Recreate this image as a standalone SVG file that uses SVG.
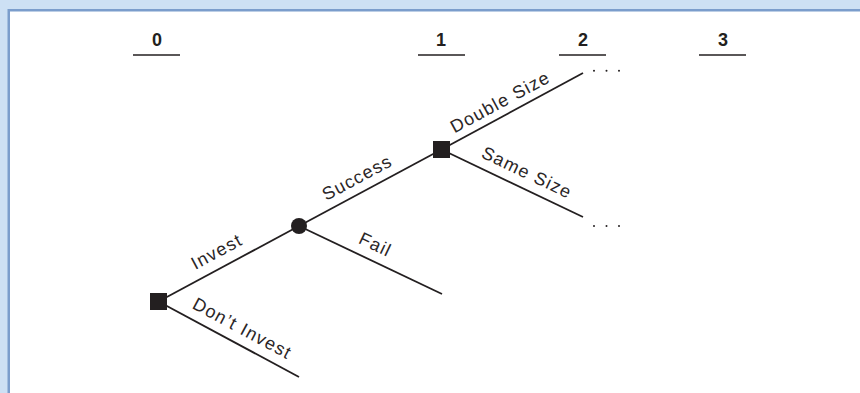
<svg xmlns="http://www.w3.org/2000/svg" width="860" height="393" viewBox="0 0 860 393">
<style>
.hdr{font-family:"Liberation Sans",Arial,sans-serif;font-weight:bold;font-size:18px;fill:#231f20;text-anchor:middle}
.ul{stroke:#231f20;stroke-width:1.6}
.br{stroke:#231f20;stroke-width:1.8;fill:none}
.lbl{font-family:"Liberation Sans",Arial,sans-serif;font-size:18px;fill:#2a2627;text-anchor:middle;letter-spacing:1.2px}
.nd{fill:#231f20}
.dot{fill:#231f20}
</style>
<rect x="0" y="0" width="860" height="393" fill="#cde0f4"/>
<rect x="8.75" y="10.25" width="860" height="400" fill="#ffffff" stroke="#7b9dcc" stroke-width="2.5"/>
<g id="headers">
<text class="hdr" x="157" y="46">0</text>
<line class="ul" x1="133" y1="55" x2="180" y2="55"/>
<text class="hdr" x="441" y="46">1</text>
<line class="ul" x1="418" y1="55" x2="465" y2="55"/>
<text class="hdr" x="583" y="46">2</text>
<line class="ul" x1="559" y1="55" x2="606" y2="55"/>
<text class="hdr" x="723" y="46">3</text>
<line class="ul" x1="699" y1="55" x2="746" y2="55"/>
</g>
<g id="connectors">
<line class="br" x1="158.5" y1="301.5" x2="299" y2="226"/>
<line class="br" x1="158.5" y1="301.5" x2="299" y2="377"/>
<line class="br" x1="299" y1="226" x2="441.5" y2="149.5"/>
<line class="br" x1="299" y1="226" x2="442" y2="294"/>
<line class="br" x1="441.5" y1="149.5" x2="583" y2="73"/>
<line class="br" x1="441.5" y1="149.5" x2="583" y2="217"/>
</g>
<g id="labels">
<text class="lbl" transform="translate(224.3,265.8) rotate(-28.25)" x="0" y="-10">Invest</text>
<text class="lbl" transform="translate(234.7,342.5) rotate(28.25)" x="0" y="-10">Don’t Invest</text>
<text class="lbl" transform="translate(364.3,190.9) rotate(-28.23)" x="0" y="-9">Success</text>
<text class="lbl" transform="translate(368.5,259) rotate(25.43)" x="0" y="-10">Fail</text>
<text class="lbl" transform="translate(506.8,114.3) rotate(-28.39)" x="0" y="-8">Double Size</text>
<text class="lbl" transform="translate(520,187) rotate(25.5)" x="0" y="-10">Same Size</text>
</g>
<g id="node-decision-0"><rect class="nd" x="150" y="293" width="17" height="17"/></g>
<g id="node-chance-1"><circle class="nd" cx="299" cy="226" r="8"/></g>
<g id="node-decision-1"><rect class="nd" x="433" y="141" width="17" height="17"/></g>
<g id="continuation-double">
<circle class="dot" cx="594" cy="70.7" r="1"/>
<circle class="dot" cx="606.5" cy="70.7" r="1"/>
<circle class="dot" cx="619" cy="70.7" r="1"/>
</g>
<g id="continuation-same">
<circle class="dot" cx="594" cy="226" r="1"/>
<circle class="dot" cx="606.5" cy="226" r="1"/>
<circle class="dot" cx="619" cy="226" r="1"/>
</g>
</svg>
